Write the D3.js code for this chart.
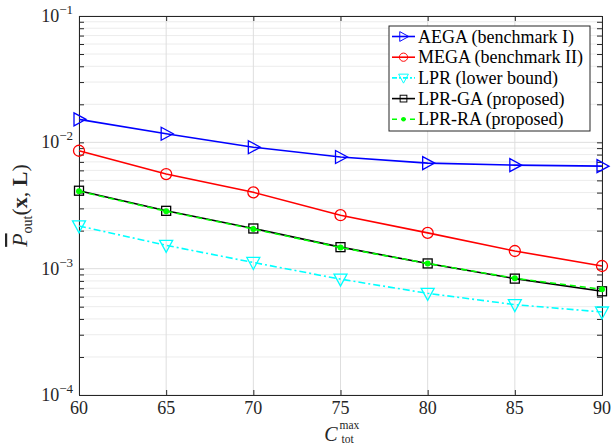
<!DOCTYPE html>
<html><head><meta charset="utf-8">
<script src="https://cdn.jsdelivr.net/npm/d3@7"></script>
<style>
body{margin:0;background:#fff;}
svg{display:block;font-family:"Liberation Serif","DejaVu Serif",serif;}
</style></head>
<body><svg id="c" width="613" height="447"></svg>
<script>
const xValues = [60, 65, 70, 75, 80, 85, 90];
const aega = [0.0152, 0.0117, 0.00915, 0.00765, 0.00685, 0.0066, 0.00648];
const mega = [0.00858, 0.00561, 0.00402, 0.00265, 0.00192, 0.00138, 0.00105];
const lpr = [0.00218, 0.00153, 0.00112, 0.000826, 0.000638, 0.000519, 0.000454];
const lprGA = [0.00414, 0.00287, 0.00208, 0.00148, 0.0011, 0.000834, 0.000662];
const lprRA = [0.0041, 0.00285, 0.00206, 0.00147, 0.0011, 0.00084, 0.000687];
const legendLabels = ["AEGA (benchmark I)", "MEGA (benchmark II)", "LPR (lower bound)", "LPR-GA (proposed)", "LPR-RA (proposed)"];
const xTicks = [60, 65, 70, 75, 80, 85, 90];
const yTickExps = [-4, -3, -2, -1];

const W = 613, H = 447;
const m = {l: 79, r: 11, t: 16, b: 52};
const svg = d3.select("#c");
const x = d3.scaleLinear().domain([60, 90]).range([m.l, W - m.r]);
const y = d3.scaleLog().domain([1e-4, 1e-1]).range([H - m.b, m.t]);

const g = svg.append("g");
// minor grid
const minorVals = [];
for (let e = -4; e < -1; e++) for (let k = 2; k <= 9; k++) minorVals.push(k * Math.pow(10, e));
g.selectAll(".mg").data(minorVals).enter().append("line")
  .attr("x1", m.l).attr("x2", W - m.r).attr("y1", d => y(d)).attr("y2", d => y(d))
  .attr("stroke", "#ececec").attr("stroke-width", 1);
// major grid
g.selectAll(".gy").data(yTickExps).enter().append("line")
  .attr("x1", m.l).attr("x2", W - m.r).attr("y1", d => y(Math.pow(10, d))).attr("y2", d => y(Math.pow(10, d)))
  .attr("stroke", "#dedede").attr("stroke-width", 1);
g.selectAll(".gx").data(xTicks).enter().append("line")
  .attr("x1", d => x(d)).attr("x2", d => x(d)).attr("y1", m.t).attr("y2", H - m.b)
  .attr("stroke", "#dedede").attr("stroke-width", 1);

// axes with inner ticks
const allY = minorVals.concat(yTickExps.map(e => Math.pow(10, e)));
const axL = d3.axisLeft(y).tickValues(allY).tickSize(-5).tickFormat("");
const axR = d3.axisRight(y).tickValues(allY).tickSize(-5).tickFormat("");
const axB = d3.axisBottom(x).tickValues(xTicks).tickSize(-5).tickFormat("");
const axT = d3.axisTop(x).tickValues(xTicks).tickSize(-5).tickFormat("");
function styleAx(sel){ sel.select(".domain").attr("stroke", "#262626"); sel.selectAll(".tick line").attr("stroke", "#262626"); }
svg.append("g").attr("transform", `translate(${m.l},0)`).call(axL).call(styleAx);
svg.append("g").attr("transform", `translate(${W - m.r},0)`).call(axR).call(styleAx);
svg.append("g").attr("transform", `translate(0,${H - m.b})`).call(axB).call(styleAx);
svg.append("g").attr("transform", `translate(0,${m.t})`).call(axT).call(styleAx);
svg.selectAll(".domain").attr("stroke-width", 1);

// tick labels
svg.selectAll(".xl").data(xTicks).enter().append("text")
  .attr("x", d => x(d)).attr("y", H - m.b + 19).attr("text-anchor", "middle")
  .attr("font-size", 18).attr("fill", "#262626").text(d => d);
const yl = svg.selectAll(".yl").data(yTickExps).enter().append("text")
  .attr("x", m.l - 6).attr("y", d => y(Math.pow(10, d)) + 6).attr("text-anchor", "end")
  .attr("font-size", 18).attr("fill", "#262626");
yl.append("tspan").text("10");
yl.append("tspan").attr("dy", -8).attr("font-size", 13).text(d => "\u2212" + Math.abs(d));

// x axis label (separate pieces)
const cx = x(75);
svg.append("text").attr("x", cx - 3).attr("y", H - 6).attr("text-anchor", "end")
  .attr("font-size", 20).attr("font-style", "italic").attr("fill", "#262626").text("C");
svg.append("text").attr("x", cx - 1).attr("y", H - 18).attr("text-anchor", "start")
  .attr("font-size", 11.5).attr("fill", "#262626").text("max");
svg.append("text").attr("x", cx + 1).attr("y", H - 4).attr("text-anchor", "start")
  .attr("font-size", 11.5).attr("fill", "#262626").text("tot");

const ylab = svg.append("text").attr("transform", `translate(27,${(m.t + H - m.b) / 2}) rotate(-90)`)
  .attr("text-anchor", "middle").attr("font-size", 22).attr("fill", "#262626");
ylab.append("tspan").attr("font-style", "italic").attr("text-decoration", "overline").text("P");
ylab.append("tspan").attr("font-size", 14).attr("dy", 5).text("out");
ylab.append("tspan").attr("dy", -5).text("(");
ylab.append("tspan").attr("font-weight", "bold").text("x");
ylab.append("tspan").text(", ");
ylab.append("tspan").attr("font-weight", "bold").text("L");
ylab.append("tspan").text(")");

// series
const series = [
  {vals: aega, color: "#0000ff", dash: null, marker: "tri-right"},
  {vals: mega, color: "#ff0000", dash: null, marker: "circle"},
  {vals: lpr, color: "#00ffff", dash: "7,3,2,3", marker: "tri-down"},
  {vals: lprGA, color: "#000000", dash: null, marker: "square"},
  {vals: lprRA, color: "#00ff00", dash: "6,4", marker: "dot"}
];
const line = d3.line().x(d => x(d[0])).y(d => y(d[1]));
function drawMarker(sel, type, color){
  if (type === "tri-right") sel.append("path").attr("d", "M-5,-6.5L7,0L-5,6.5Z").attr("fill", "none").attr("stroke", color).attr("stroke-width", 1.3);
  else if (type === "tri-down") sel.append("path").attr("d", "M-6.5,-5L6.5,-5L0,7Z").attr("fill", "none").attr("stroke", color).attr("stroke-width", 1.3);
  else if (type === "circle") sel.append("circle").attr("r", 5.5).attr("fill", "none").attr("stroke", color).attr("stroke-width", 1.3);
  else if (type === "square") sel.append("rect").attr("x", -4.5).attr("y", -4.5).attr("width", 9).attr("height", 9).attr("fill", "none").attr("stroke", color).attr("stroke-width", 1.3);
  else if (type === "dot") sel.append("circle").attr("r", 3).attr("fill", color);
}
const plot = svg.append("g");
series.forEach(s => {
  const pts = xValues.map((v, i) => [v, s.vals[i]]);
  plot.append("path").datum(pts).attr("d", line).attr("fill", "none")
    .attr("stroke", s.color).attr("stroke-width", 1.6).attr("stroke-dasharray", s.dash);
  pts.forEach(p => {
    const gm = plot.append("g").attr("transform", `translate(${x(p[0])},${y(p[1])})`);
    drawMarker(gm, s.marker, s.color);
  });
});

// legend
const lg = svg.append("g");
const lx = 389, ly = 26, lw = 201, lh = 105;
lg.append("rect").attr("x", lx).attr("y", ly).attr("width", lw).attr("height", lh)
  .attr("fill", "#fff").attr("stroke", "#262626").attr("stroke-width", 1);
legendLabels.forEach((lab, i) => {
  const s = series[i];
  const cy = ly + 10.5 + i * 20.7;
  lg.append("line").attr("x1", lx + 3).attr("x2", lx + 26).attr("y1", cy).attr("y2", cy)
    .attr("stroke", s.color).attr("stroke-width", 1.6).attr("stroke-dasharray", s.dash ? (s.marker === "dot" ? "5,4" : "5,2,2,2") : null);
  const gm = lg.append("g").attr("transform", `translate(${lx + 14.5},${cy}) scale(0.75)`);
  drawMarker(gm, s.marker, s.color);
  lg.append("text").attr("x", lx + 29).attr("y", cy + 6).attr("font-size", 18).attr("fill", "#000").text(lab);
});
</script></body></html>
